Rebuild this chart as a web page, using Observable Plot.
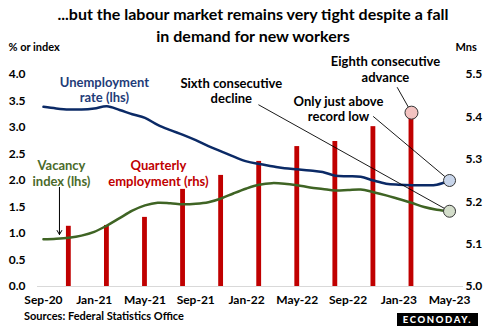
<!DOCTYPE html>
<html>
<head>
<meta charset="utf-8">
<script src="https://cdn.jsdelivr.net/npm/d3@7"></script>
<script src="https://cdn.jsdelivr.net/npm/@observablehq/plot@0.6"></script>
<style>
  html, body { margin: 0; padding: 0; background: #fff; overflow: hidden; }
  #wrap { width: 490px; height: 326px; position: relative; font-family: Lato, "Open Sans", sans-serif; }
  #title { height: 44px; box-sizing: border-box; padding-top: 3px; text-align: center; font-weight: bold; font-size: 16px; line-height: 22px; color: #000; padding-left: 16px; }
  #footer { position: relative; height: 18px; }
  #source { position: absolute; left: 24px; top: 1px; font-size: 11px; font-weight: bold; color: #000; }
  #logo { position: absolute; left: 397px; top: 5px; width: 81px; height: 13px; background: #000; color: #fff; font-size: 9.5px; font-weight: 900; letter-spacing: 1.6px; text-align: center; line-height: 14px; }
  svg { display: block; }
</style>
</head>
<body>
<div id="wrap">
  <div id="title">...but the labour market remains very tight despite a fall<br>in demand for new workers</div>
  <div id="chart"></div>
  <div id="footer"><div id="source">Sources: Federal Statistics Office</div><div id="logo">ECONODAY.</div></div>
</div>
<script>
// Monthly axis (Sep-20 .. May-23)
const monthLabels = ["Sep-20","Oct-20","Nov-20","Dec-20","Jan-21","Feb-21","Mar-21","Apr-21","May-21","Jun-21","Jul-21","Aug-21",
  "Sep-21","Oct-21","Nov-21","Dec-21","Jan-22","Feb-22","Mar-22","Apr-22","May-22","Jun-22","Jul-22","Aug-22",
  "Sep-22","Oct-22","Nov-22","Dec-22","Jan-23","Feb-23","Mar-23","Apr-23","May-23"];
// Unemployment rate (%, lhs)
const unemployment = [3.39,3.36,3.34,3.34,3.36,3.40,3.33,3.25,3.18,3.05,2.95,2.86,
  2.76,2.65,2.55,2.45,2.36,2.31,2.27,2.23,2.21,2.19,2.16,2.09,
  2.08,2.07,2.00,1.94,1.92,1.91,1.91,1.92,2.00];
// Vacancy index (lhs)
const vacancy = [0.89,0.90,0.92,0.96,1.03,1.15,1.29,1.43,1.53,1.58,1.57,1.55,
  1.56,1.59,1.66,1.76,1.85,1.92,1.95,1.94,1.91,1.87,1.84,1.81,
  1.82,1.83,1.78,1.72,1.65,1.58,1.50,1.45,1.42];
// Quarterly employment (millions, rhs), plotted at mid-quarter month
const empMonths = ["Nov-20","Feb-21","May-21","Aug-21","Nov-21","Feb-22","May-22","Aug-22","Nov-22","Feb-23"];
const employment = [5.142,5.144,5.163,5.229,5.262,5.295,5.330,5.342,5.377,5.410];
// Tick labels
const xTickLabels = ["Sep-20","Jan-21","May-21","Sep-21","Jan-22","May-22","Sep-22","Jan-23","May-23"];
const leftTicks = [0,0.5,1,1.5,2,2.5,3,3.5,4];
const rightTicks = [5.0,5.1,5.2,5.3,5.4,5.5];

const toLeft = v => (v - 5.0) * 8; // rhs 5.0..5.5 -> lhs 0..4
const idx = m => monthLabels.indexOf(m);

const lineData = monthLabels.map((m, k) => ({k, u: unemployment[k], v: vacancy[k]}));
const empData = empMonths.map((m, i) => ({k: idx(m), e: employment[i]}));
const last = lineData[lineData.length - 1];
const lastEmp = empData[empData.length - 1];

const navy = "#0b2a66", green = "#3f6424", red = "#c00000";

const labels = [
  {t: "Unemployment\nrate (lhs)", k: 4.8, y: 3.72, c: "#1f3c78"},
  {t: "Vacancy\nindex (lhs)", k: 1.42, y: 2.14, c: "#4b6b2b"},
  {t: "Quarterly\nemployment (rhs)", k: 9.06, y: 2.14, c: red},
  {t: "Sixth consecutive\ndecline", k: 14.8, y: 3.69, c: "#000"},
  {t: "Eighth consecutive\nadvance", k: 26.95, y: 4.10, c: "#000"},
  {t: "Only just above\nrecord low", k: 23.25, y: 3.36, c: "#000"}
];
const leaders = [
  {x1: 16.94, y1: 3.43, x2: last.k, y2: last.v},
  {x1: 25.98, y1: 3.21, x2: last.k, y2: last.u},
  {x1: 27.87, y1: 3.76, x2: lastEmp.k, y2: toLeft(lastEmp.e)}
];

const chart = Plot.plot({
  width: 490, height: 264,
  marginLeft: 37, marginRight: 27, marginTop: 30, marginBottom: 22,
  style: {fontFamily: "Lato, 'Open Sans', sans-serif", fontSize: "12px", fontWeight: "bold", color: "#000", background: "transparent", overflow: "visible"},
  x: {domain: [-0.47, 33.1], axis: null},
  y: {domain: [0, 4], axis: null},
  marks: [
    Plot.ruleY([0], {stroke: "#d9d9d9", strokeWidth: 1}),
    Plot.rect(empData, {x1: d => d.k - 0.19, x2: d => d.k + 0.19, y1: 0, y2: d => toLeft(d.e), fill: red}),
    Plot.line(lineData, {x: "k", y: "u", stroke: navy, strokeWidth: 2.5, curve: "catmull-rom"}),
    Plot.line(lineData, {x: "k", y: "v", stroke: green, strokeWidth: 2.5, curve: "catmull-rom"}),
    Plot.link(leaders, {x1: "x1", y1: "y1", x2: "x2", y2: "y2", stroke: "#000", strokeWidth: 0.9}),
    Plot.arrow([{x1: 1.26, y1: 1.87, x2: 1.26, y2: 0.98}], {x1: "x1", y1: "y1", x2: "x2", y2: "y2", stroke: "#000", strokeWidth: 1, headLength: 7}),
    Plot.dot([last], {x: "k", y: "u", r: 6, fill: "#c8d5ea", stroke: "#333", strokeWidth: 1}),
    Plot.dot([last], {x: "k", y: "v", r: 6, fill: "#d3ddca", stroke: "#333", strokeWidth: 1}),
    Plot.dot([lastEmp], {x: "k", y: d => toLeft(d.e), r: 6.5, fill: "#f3c3c1", stroke: "#333", strokeWidth: 1}),
    Plot.text(labels, {x: "k", y: "y", text: "t", fill: "c", fontSize: 13, fontWeight: "bold", lineHeight: 1.17, lineAnchor: "middle", textAnchor: "middle"}),
    Plot.axisX(xTickLabels.map(idx), {tickSize: 0, tickPadding: 9, tickFormat: k => monthLabels[k], fontSize: 12, fontWeight: "bold", label: null}),
    Plot.axisY(leftTicks, {anchor: "left", tickSize: 0, tickPadding: 12, tickFormat: d => d.toFixed(1), fontSize: 12, fontWeight: "bold", label: null}),
    Plot.axisY(rightTicks.map(toLeft), {anchor: "right", tickSize: 0, tickPadding: 2, tickFormat: d => (5 + d / 8).toFixed(1), fontSize: 12, fontWeight: "bold", label: null}),
    Plot.text(["% or index"], {frameAnchor: "top-left", dx: -29, dy: -27, textAnchor: "start", lineAnchor: "middle", fontSize: 11, fontWeight: "bold"}),
    Plot.text(["Mns"], {frameAnchor: "top-right", dx: -8, dy: -27, textAnchor: "start", lineAnchor: "middle", fontSize: 11, fontWeight: "bold"})
  ]
});
document.getElementById("chart").appendChild(chart);
</script>
</body>
</html>
